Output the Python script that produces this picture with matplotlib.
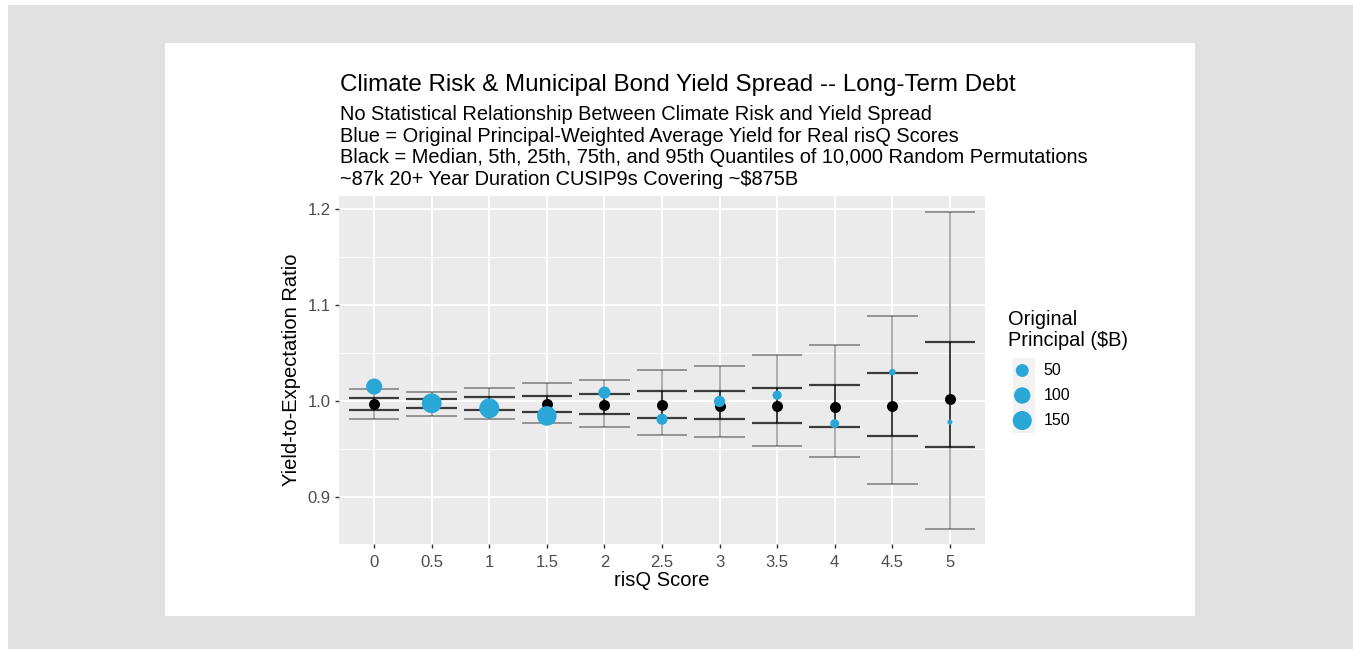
import matplotlib
matplotlib.use("Agg")
import matplotlib.pyplot as plt
from matplotlib.patches import Rectangle
import numpy as np

plt.rcParams["font.family"] = ["Liberation Sans", "DejaVu Sans"]

# ---------------------------------------------------------------------------
# Data
# ---------------------------------------------------------------------------
risq_scores = [0, 0.5, 1, 1.5, 2, 2.5, 3, 3.5, 4, 4.5, 5]
tick_labels = ["0", "0.5", "1", "1.5", "2", "2.5", "3", "3.5", "4", "4.5", "5"]

# quantiles of the 10,000 random permutations
q05 = [0.9817, 0.9848, 0.9810, 0.9775, 0.9730, 0.9643, 0.9622, 0.9531, 0.9420, 0.9135, 0.8670]
q25 = [0.9906, 0.9924, 0.9903, 0.9886, 0.9861, 0.9823, 0.9813, 0.9770, 0.9726, 0.9635, 0.9520]
q50 = [0.9966, 0.9970, 0.9968, 0.9969, 0.9962, 0.9955, 0.9948, 0.9945, 0.9934, 0.9948, 1.0025]
q75 = [1.0035, 1.0025, 1.0038, 1.0052, 1.0070, 1.0101, 1.0108, 1.0135, 1.0167, 1.0296, 1.0611]
q95 = [1.0129, 1.0098, 1.0132, 1.0184, 1.0223, 1.0327, 1.0365, 1.0480, 1.0583, 1.0882, 1.1969]

# principal-weighted average yield for the real risQ scores
real_yield = [1.0150, 0.9976, 0.9924, 0.9844, 1.0087, 0.9810, 0.9995, 1.0060, 0.9764, 1.0300, 0.9780]
principal_b = [95, 165, 170, 160, 42, 32, 33, 17, 16, 6, 4]

legend_sizes = [50, 100, 150]

TITLE = "Climate Risk & Municipal Bond Yield Spread -- Long-Term Debt"
SUBTITLE_LINES = [
    "No Statistical Relationship Between Climate Risk and Yield Spread",
    "Blue = Original Principal-Weighted Average Yield for Real risQ Scores",
    "Black = Median, 5th, 25th, 75th, and 95th Quantiles of 10,000 Random Permutations",
    "~87k 20+ Year Duration CUSIP9s Covering ~$875B",
]

BLUE = "#29a8d8"
W, H = 1353, 649
DPI = 100
PX = 72.0 / DPI  # points per pixel


def size_px(v, vmin=min(principal_b), vmax=max(principal_b), dmin=5.0, dmax=20.0):
    # ggplot-style area scale: diameter grows with sqrt of rescaled value
    r = np.clip((np.asarray(v, float) - vmin) / (vmax - vmin), 0, 1)
    return dmin + (dmax - dmin) * np.sqrt(r)


def scatter_s(v):
    return (size_px(v) * PX) ** 2


fig = plt.figure(figsize=(W / DPI, H / DPI), dpi=DPI)
fig.patch.set_facecolor("white")

# grey frame + white card
fig.add_artist(Rectangle((8 / W, 0), 1 - 8 / W, 1 - 5 / H, transform=fig.transFigure,
                         facecolor="#e1e1e1", edgecolor="none", zorder=-2))
fig.add_artist(Rectangle((165 / W, 1 - 616 / H), (1195 - 165) / W, (616 - 43) / H,
                         transform=fig.transFigure, facecolor="white", edgecolor="none", zorder=-1))

ax = fig.add_axes([339 / W, 1 - 544 / H, (985 - 339) / W, (544 - 196) / H])
ax.set_facecolor("#ebebeb")
for s in ax.spines.values():
    s.set_visible(False)

ax.set_xlim(-0.305, 5.305)
ax.set_ylim(0.851, 1.2135)

ax.set_xticks(risq_scores)
ax.set_xticklabels(tick_labels)
ax.set_yticks([0.9, 1.0, 1.1, 1.2])
ax.set_yticks([0.95, 1.05, 1.15], minor=True)
ax.grid(which="major", color="white", linewidth=1.3)
ax.yaxis.grid(which="minor", color="white", linewidth=0.65)
ax.set_axisbelow(True)
ax.tick_params(axis="both", which="major", length=3, width=1.0, color="#333333",
               labelcolor="#4d4d4d", labelsize=12, pad=3)
ax.tick_params(axis="x", which="major", pad=5)
ax.tick_params(axis="y", which="minor", length=0)

x = np.array(risq_scores)
cap = 0.22

# 5th-95th quantile whiskers (light)
ax.vlines(x, q05, q95, color="black", alpha=0.4, linewidth=1.1, zorder=2)
ax.hlines(q05, x - cap, x + cap, color="black", alpha=0.4, linewidth=1.3, zorder=2)
ax.hlines(q95, x - cap, x + cap, color="black", alpha=0.4, linewidth=1.3, zorder=2)
# 25th-75th quantile whiskers (dark)
ax.vlines(x, q25, q75, color="black", alpha=0.7, linewidth=1.3, zorder=3)
ax.hlines(q25, x - cap, x + cap, color="black", alpha=0.75, linewidth=1.6, zorder=3)
ax.hlines(q75, x - cap, x + cap, color="black", alpha=0.75, linewidth=1.6, zorder=3)

ax.scatter(x, q50, s=(11 * PX) ** 2, color="black", linewidths=0, zorder=4)
ax.scatter(x, real_yield, s=scatter_s(principal_b), color=BLUE, linewidths=0, zorder=5)

ax.set_xlabel("risQ Score", fontsize=14.5, color="black", labelpad=1)
ax.set_ylabel("Yield-to-Expectation Ratio", fontsize=14.5, color="black", labelpad=5)

fig.text(340 / W, 1 - 91.5 / H, TITLE, fontsize=17.4, va="baseline", ha="left", color="black")
for i, line in enumerate(SUBTITLE_LINES):
    fig.text(340 / W, 1 - (120 + 21.7 * i) / H, line, fontsize=14.4, va="baseline",
             ha="left", color="black")

# legend drawn by hand, ggplot style
fig.text(1008 / W, 1 - 330 / H, "Original\nPrincipal ($B)", fontsize=14.4, va="center",
         ha="left", linespacing=1.1)
lax = fig.add_axes([1013 / W, 1 - 433 / H, 22 / W, 75 / H])
lax.set_xlim(0, 1)
lax.set_ylim(0, 3)
lax.axis("off")
lax.add_patch(Rectangle((0, 0), 1, 3, facecolor="#f2f2f2", edgecolor="none"))
key_y = [2.5, 1.5, 0.5]
lax.scatter([0.42] * 3, key_y, s=scatter_s(legend_sizes), color=BLUE, linewidths=0,
            clip_on=False)
for ky, lab in zip(key_y, legend_sizes):
    lax.text(1.4, ky, str(lab), fontsize=11.5, va="center", ha="left", color="black")

fig.savefig("out.png", dpi=DPI, facecolor=fig.get_facecolor())
